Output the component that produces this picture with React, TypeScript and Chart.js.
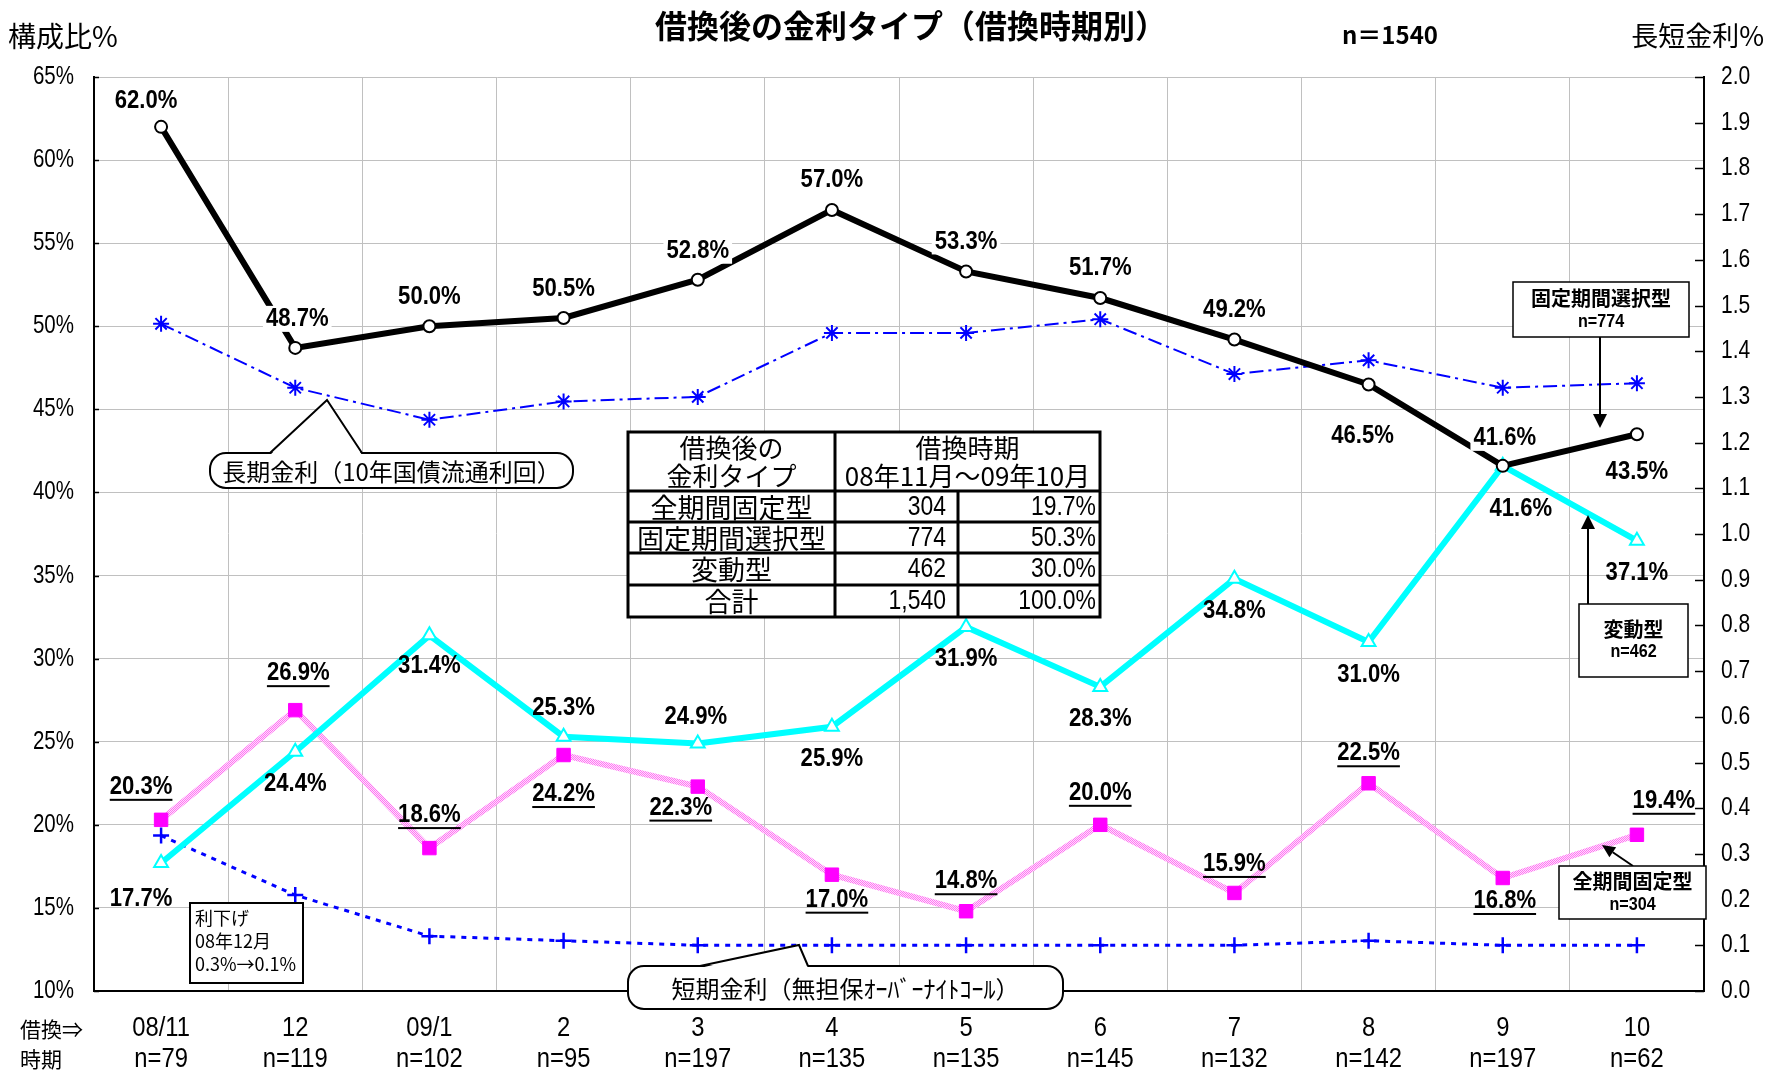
import React, { useEffect, useRef } from "react";
import { Chart, registerables } from "chart.js";
Chart.register(...registerables);

const W = 1768;
const H = 1071;
const SANS = "'Liberation Sans', Arial, sans-serif";
const JP = "'Noto Sans CJK JP', 'Noto Sans', sans-serif";

// ---- data ----
const months = ["08/11", "12", "09/1", "2", "3", "4", "5", "6", "7", "8", "9", "10"];
const counts = ["n=79", "n=119", "n=102", "n=95", "n=197", "n=135", "n=135", "n=145", "n=132", "n=142", "n=197", "n=62"];
const fixedPeriod = [62.0, 48.7, 50.0, 50.5, 52.8, 57.0, 53.3, 51.7, 49.2, 46.5, 41.6, 43.5];
const variableRate = [17.7, 24.4, 31.4, 25.3, 24.9, 25.9, 31.9, 28.3, 34.8, 31.0, 41.6, 37.1];
const fullFixed = [20.3, 26.9, 18.6, 24.2, 22.3, 17.0, 14.8, 20.0, 15.9, 22.5, 16.8, 19.4];
const longRate = [1.46, 1.32, 1.25, 1.29, 1.30, 1.44, 1.44, 1.47, 1.35, 1.38, 1.32, 1.33];
const shortRate = [0.34, 0.21, 0.12, 0.11, 0.10, 0.10, 0.10, 0.10, 0.10, 0.11, 0.10, 0.10];

const leftMin = 10, leftMax = 65, leftStep = 5;
const rightMin = 0, rightMax = 2, rightStep = 0.1;

const tableHeadLeft = ["借換後の", "金利タイプ"];
const tableHeadRight = ["借換時期", "08年11月～09年10月"];
const tableTypes = ["全期間固定型", "固定期間選択型", "変動型", "合計"];
const tableCounts = ["304", "774", "462", "1,540"];
const tableShares = ["19.7%", "50.3%", "30.0%", "100.0%"];

// ---- label placement (style) ----
const blackDx = [-15, 2, 0, 0, 0, 0, 0, 0, 0, -6, 2, 0];
const blackDy = [-26, -29, -29, -29, -29, -30, -30, -30, -30, 51, -28, 38];
const cyanDx = [-20, 0, 0, 0, -2, 0, 0, 0, 0, 0, 18, 0];
const cyanDy = [36, 32, 30, -29, -27, 32, 32, 32, 32, 33, 43, 32];
const pinkDx = [-20, 3, 0, 0, -17, 5, 0, 0, 0, 0, 2, 27];
const pinkDy = [-33, -37, -33, 39, 21, 25, -30, -32, -29, -30, 23, -34];

function condText(ctx: CanvasRenderingContext2D, text: string, x: number, y: number, font: string, align: CanvasTextAlign, sx: number) {
  ctx.save();
  ctx.font = font;
  ctx.textAlign = align;
  ctx.textBaseline = "middle";
  ctx.translate(x, y);
  ctx.scale(sx, 1);
  ctx.fillText(text, 0, 0);
  ctx.restore();
}

function drawArrow(ctx: CanvasRenderingContext2D, x1: number, y1: number, x2: number, y2: number, head = 14, hw = 7) {
  const a = Math.atan2(y2 - y1, x2 - x1);
  const bx = x2 - head * Math.cos(a);
  const by = y2 - head * Math.sin(a);
  ctx.beginPath();
  ctx.moveTo(x1, y1);
  ctx.lineTo(bx, by);
  ctx.stroke();
  ctx.beginPath();
  ctx.moveTo(x2, y2);
  ctx.lineTo(bx + hw * Math.sin(a), by - hw * Math.cos(a));
  ctx.lineTo(bx - hw * Math.sin(a), by + hw * Math.cos(a));
  ctx.closePath();
  ctx.fill();
}

function callout(ctx: CanvasRenderingContext2D, x0: number, y0: number, x1: number, y1: number, b1: number, b2: number, tx: number, ty: number, text: string) {
  ctx.save();
  ctx.fillStyle = "#fff";
  ctx.strokeStyle = "#000";
  ctx.lineWidth = 2;
  ctx.beginPath();
  (ctx as any).roundRect(x0, y0, x1 - x0, y1 - y0, 16);
  ctx.fill();
  ctx.stroke();
  ctx.beginPath();
  ctx.moveTo(b1, y0 + 2);
  ctx.lineTo(tx, ty);
  ctx.lineTo(b2, y0 + 2);
  ctx.closePath();
  ctx.fill();
  ctx.beginPath();
  ctx.moveTo(b1, y0);
  ctx.lineTo(tx, ty);
  ctx.lineTo(b2, y0);
  ctx.stroke();
  ctx.fillStyle = "#000";
  ctx.font = `24px ${JP}`;
  ctx.textAlign = "center";
  ctx.textBaseline = "middle";
  ctx.fillText(text, (x0 + x1) / 2, (y0 + y1) / 2 + 1);
  ctx.restore();
}

function nameBox(ctx: CanvasRenderingContext2D, x0: number, y0: number, x1: number, y1: number, name: string, n: string, ny1: number, ny2: number) {
  ctx.save();
  ctx.fillStyle = "#fff";
  ctx.fillRect(x0, y0, x1 - x0, y1 - y0);
  ctx.strokeStyle = "#000";
  ctx.lineWidth = 1.5;
  ctx.strokeRect(x0, y0, x1 - x0, y1 - y0);
  ctx.fillStyle = "#000";
  ctx.textAlign = "center";
  ctx.textBaseline = "middle";
  ctx.font = `bold 20px ${JP}`;
  ctx.fillText(name, (x0 + x1) / 2, ny1);
  condText(ctx, n, (x0 + x1) / 2, ny2, `bold 19px ${SANS}`, "center", 0.85);
  ctx.restore();
}

const overlay = {
  id: "overlay",
  afterDraw(chart: any) {
    const ctx: CanvasRenderingContext2D = chart.ctx;
    const area = chart.chartArea;
    const xs = chart.scales.x;
    const yL = chart.scales.y;
    const yR = chart.scales.y2;
    ctx.save();

    // inward ticks + axis labels
    ctx.strokeStyle = "#000";
    ctx.fillStyle = "#000";
    ctx.lineWidth = 1.5;
    yR.ticks.forEach((t: any) => {
      const py = Math.round(yR.getPixelForValue(t.value)) + 0.5;
      ctx.beginPath();
      ctx.moveTo(area.right - 9, py);
      ctx.lineTo(area.right, py);
      ctx.stroke();
      condText(ctx, Number(t.value).toFixed(1), area.right + 17, py, `25px ${SANS}`, "left", 0.84);
    });
    yL.ticks.forEach((t: any) => {
      const py = Math.round(yL.getPixelForValue(t.value)) + 0.5;
      ctx.beginPath();
      ctx.moveTo(area.left, py);
      ctx.lineTo(area.left + 5, py);
      ctx.stroke();
      condText(ctx, t.value + "%", area.left - 20, py, `25px ${SANS}`, "right", 0.82);
    });

    // data labels
    const drawLabel = (text: string, cx: number, cy: number, bg: boolean, underline: boolean) => {
      const font = `bold 26px ${SANS}`;
      ctx.font = font;
      const w = ctx.measureText(text).width * 0.85;
      if (bg) {
        ctx.fillStyle = "#fff";
        ctx.fillRect(cx - w / 2 - 3, cy - 13, w + 6, 26);
      }
      ctx.fillStyle = "#000";
      condText(ctx, text, cx, cy, font, "center", 0.85);
      if (underline) ctx.fillRect(cx - w / 2, cy + 12, w, 2);
    };
    const m0 = chart.getDatasetMeta(0).data;
    const m1 = chart.getDatasetMeta(1).data;
    const m2 = chart.getDatasetMeta(2).data;
    fixedPeriod.forEach((v, i) => drawLabel(v.toFixed(1) + "%", m0[i].x + blackDx[i], m0[i].y + blackDy[i], true, false));
    variableRate.forEach((v, i) => drawLabel(v.toFixed(1) + "%", m1[i].x + cyanDx[i], m1[i].y + cyanDy[i], false, false));
    fullFixed.forEach((v, i) => drawLabel(v.toFixed(1) + "%", m2[i].x + pinkDx[i], m2[i].y + pinkDy[i], false, true));

    // x labels
    ctx.fillStyle = "#000";
    months.forEach((m, i) => {
      const px = xs.getPixelForValue(i);
      condText(ctx, m, px, 1028, `28px ${SANS}`, "center", 0.85);
      condText(ctx, counts[i], px, 1059, `28px ${SANS}`, "center", 0.85);
    });
    ctx.textBaseline = "middle";
    ctx.textAlign = "left";
    ctx.font = `21px ${JP}`;
    ctx.fillText("借換⇒", 20, 1029);
    ctx.fillText("時期", 20, 1059);

    // titles
    ctx.textAlign = "center";
    ctx.font = `bold 32px ${JP}`;
    ctx.fillText("借換後の金利タイプ（借換時期別）", 911, 26);
    ctx.font = `bold 24px ${JP}`;
    ctx.fillText("n＝1540", 1390, 35);
    ctx.font = `28px ${JP}`;
    ctx.textAlign = "left";
    ctx.fillText("構成比%", 8, 36);
    ctx.textAlign = "right";
    ctx.font = `27px ${JP}`;
    ctx.fillText("長短金利%", 1764, 36);

    // table
    const tx = [628, 835, 958, 1100];
    const ty = [432, 491, 522, 553, 585, 617];
    ctx.fillStyle = "#fff";
    ctx.fillRect(tx[0], ty[0], tx[3] - tx[0], ty[5] - ty[0]);
    ctx.strokeStyle = "#000";
    ctx.lineWidth = 3;
    ctx.strokeRect(tx[0], ty[0], tx[3] - tx[0], ty[5] - ty[0]);
    ctx.beginPath();
    for (let r = 1; r <= 4; r++) {
      ctx.moveTo(tx[0], ty[r]);
      ctx.lineTo(tx[3], ty[r]);
    }
    ctx.moveTo(tx[1], ty[0]);
    ctx.lineTo(tx[1], ty[5]);
    ctx.moveTo(tx[2], ty[1]);
    ctx.lineTo(tx[2], ty[5]);
    ctx.stroke();
    ctx.fillStyle = "#000";
    ctx.font = `26px ${JP}`;
    ctx.textAlign = "center";
    ctx.fillText(tableHeadLeft[0], (tx[0] + tx[1]) / 2, 448);
    ctx.fillText(tableHeadLeft[1], (tx[0] + tx[1]) / 2, 476);
    ctx.fillText(tableHeadRight[0], (tx[1] + tx[3]) / 2, 448);
    ctx.fillText(tableHeadRight[1], (tx[1] + tx[3]) / 2, 476);
    for (let r = 0; r < 4; r++) {
      const cy = (ty[r + 1] + ty[r + 2]) / 2 + 1;
      ctx.font = `27px ${JP}`;
      ctx.textAlign = "center";
      ctx.fillText(tableTypes[r], (tx[0] + tx[1]) / 2, cy);
      condText(ctx, tableCounts[r], tx[2] - 12, cy, `27px ${SANS}`, "right", 0.85);
      condText(ctx, tableShares[r], tx[3] - 4, cy, `27px ${SANS}`, "right", 0.85);
    }

    // callouts
    callout(ctx, 210, 453, 573, 488, 270, 362, 327, 400, "長期金利（10年国債流通利回）");
    callout(ctx, 628, 966, 1063, 1009, 700, 808, 799, 945, "短期金利（無担保ｵｰﾊﾞｰﾅｲﾄｺｰﾙ）");

    // rate cut box
    ctx.fillStyle = "#fff";
    ctx.fillRect(190, 903, 113, 80);
    ctx.strokeStyle = "#000";
    ctx.lineWidth = 2;
    ctx.strokeRect(190, 903, 113, 80);
    ctx.fillStyle = "#000";
    ctx.textAlign = "left";
    ctx.textBaseline = "middle";
    ctx.font = `18px ${JP}`;
    ctx.fillText("利下げ", 195, 918);
    ctx.fillText("08年12月", 195, 941);
    ctx.fillText("0.3%→0.1%", 195, 964);

    // series name boxes with arrows
    ctx.strokeStyle = "#000";
    ctx.fillStyle = "#000";
    ctx.lineWidth = 2;
    drawArrow(ctx, 1600, 337, 1600, 428, 14, 7);
    drawArrow(ctx, 1588, 604, 1588, 515, 14, 7);
    drawArrow(ctx, 1633, 866, 1602, 845, 13, 6);
    nameBox(ctx, 1513, 282, 1689, 337, "固定期間選択型", "n=774", 298, 322);
    nameBox(ctx, 1579, 604, 1688, 677, "変動型", "n=462", 629, 652);
    nameBox(ctx, 1559, 866, 1706, 919, "全期間固定型", "n=304", 881, 905);

    ctx.restore();
  },
};

export default function App() {
  const ref = useRef<HTMLCanvasElement>(null);
  useEffect(() => {
    const canvas = ref.current!;
    const pc = document.createElement("canvas");
    pc.width = 4;
    pc.height = 4;
    const p = pc.getContext("2d")!;
    p.fillStyle = "#FFDDFF";
    p.fillRect(0, 0, 4, 4);
    p.fillStyle = "#FF77F0";
    [[0, 0], [2, 0], [1, 1], [3, 1], [0, 2], [2, 2], [1, 3], [3, 3]].forEach(([a, b]) => p.fillRect(a, b, 1, 1));
    const pattern = canvas.getContext("2d")!.createPattern(pc, "repeat");

    const chart = new Chart(canvas, {
      type: "line",
      data: {
        labels: months,
        datasets: [
          {
            label: "固定期間選択型",
            data: fixedPeriod,
            yAxisID: "y",
            borderColor: "#000",
            borderWidth: 6,
            pointStyle: "circle",
            pointRadius: 6,
            pointBackgroundColor: "#fff",
            pointBorderColor: "#000",
            pointBorderWidth: 2,
          },
          {
            label: "変動型",
            data: variableRate,
            yAxisID: "y",
            borderColor: "#00FFFF",
            borderWidth: 6,
            pointStyle: "triangle",
            pointRadius: 8,
            pointBackgroundColor: "#fff",
            pointBorderColor: "#00FFFF",
            pointBorderWidth: 2,
          },
          {
            label: "全期間固定型",
            data: fullFixed,
            yAxisID: "y",
            borderColor: pattern as any,
            borderWidth: 6,
            pointStyle: "rect",
            pointRadius: 9.5,
            pointBackgroundColor: "#FF00FF",
            pointBorderColor: "#FF00FF",
            pointBorderWidth: 1,
          },
          {
            label: "長期金利",
            data: longRate,
            yAxisID: "y2",
            borderColor: "#0000FF",
            borderWidth: 2,
            borderDash: [14, 5, 3, 5],
            pointStyle: "star",
            pointRadius: 8,
            pointBackgroundColor: "#0000FF",
            pointBorderColor: "#0000FF",
            pointBorderWidth: 2,
          },
          {
            label: "短期金利",
            data: shortRate,
            yAxisID: "y2",
            borderColor: "#0000FF",
            borderWidth: 3,
            borderDash: [5, 6],
            pointStyle: "cross",
            pointRadius: 8,
            pointBackgroundColor: "#0000FF",
            pointBorderColor: "#0000FF",
            pointBorderWidth: 2.5,
          },
        ],
      },
      options: {
        responsive: false,
        animation: false,
        devicePixelRatio: 1,
        layout: { padding: { top: 77, left: 0, right: 0, bottom: 0 } },
        plugins: { legend: { display: false }, tooltip: { enabled: false } },
        elements: { line: { tension: 0 } },
        scales: {
          x: {
            type: "category",
            offset: true,
            grid: { offset: true, color: "#C0C0C0", lineWidth: 1, drawTicks: false },
            border: { color: "#000", width: 2 },
            ticks: { display: false },
            afterFit: (s: any) => {
              s.height = 80;
            },
          },
          y: {
            position: "left",
            min: leftMin,
            max: leftMax,
            ticks: { display: false, stepSize: leftStep, maxTicksLimit: 40, autoSkip: false },
            grid: { color: "#C0C0C0", lineWidth: 1, drawTicks: false },
            border: { color: "#000", width: 2 },
            afterFit: (s: any) => {
              s.width = 94;
            },
          },
          y2: {
            position: "right",
            min: rightMin,
            max: rightMax,
            ticks: { display: false, stepSize: rightStep, maxTicksLimit: 40, autoSkip: false },
            grid: { drawOnChartArea: false, drawTicks: false },
            border: { color: "#000", width: 2 },
            afterFit: (s: any) => {
              s.width = 64;
            },
          },
        },
      },
      plugins: [overlay],
    } as any);
    return () => chart.destroy();
  }, []);
  return (
    <div style={{ position: "absolute", left: 0, top: 0, width: W, height: H, background: "#fff" }}>
      <canvas ref={ref} width={W} height={H} style={{ width: W, height: H, display: "block" }} />
    </div>
  );
}
